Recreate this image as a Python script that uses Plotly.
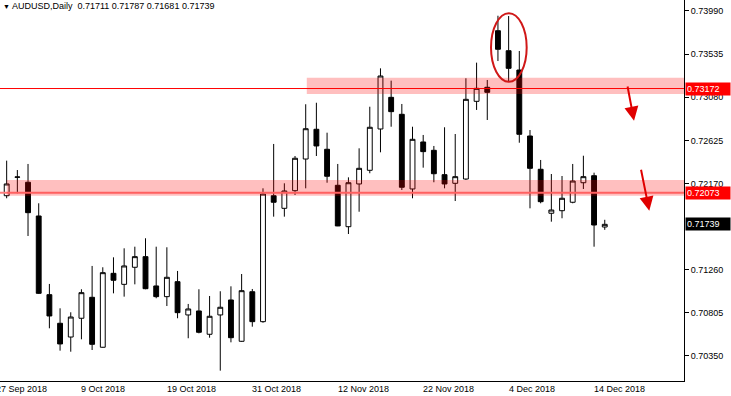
import plotly.graph_objects as go

# ---------------- data ----------------
dates = ["2018-09-27", "2018-09-28",
         "2018-10-01", "2018-10-02", "2018-10-03", "2018-10-04", "2018-10-05",
         "2018-10-08", "2018-10-09", "2018-10-10", "2018-10-11", "2018-10-12",
         "2018-10-15", "2018-10-16", "2018-10-17", "2018-10-18", "2018-10-19",
         "2018-10-22", "2018-10-23", "2018-10-24", "2018-10-25", "2018-10-26",
         "2018-10-29", "2018-10-30", "2018-10-31", "2018-11-01", "2018-11-02",
         "2018-11-05", "2018-11-06", "2018-11-07", "2018-11-08", "2018-11-09",
         "2018-11-12", "2018-11-13", "2018-11-14", "2018-11-15", "2018-11-16",
         "2018-11-19", "2018-11-20", "2018-11-21", "2018-11-22", "2018-11-23",
         "2018-11-26", "2018-11-27", "2018-11-28", "2018-11-29", "2018-11-30",
         "2018-12-03", "2018-12-04", "2018-12-05", "2018-12-06", "2018-12-07",
         "2018-12-10", "2018-12-11", "2018-12-12", "2018-12-13", "2018-12-14",
         "2018-12-17"]

opens = [0.72530, 0.72041, 0.72236, 0.72183, 0.71827, 0.70997, 0.70695, 0.70550,
         0.70748, 0.70969, 0.70442, 0.71222, 0.71106, 0.71286, 0.71398, 0.71089,
         0.70976, 0.71134, 0.70783, 0.70825, 0.70579, 0.70783, 0.70941, 0.70505,
         0.71028, 0.70712, 0.72041, 0.71908, 0.72094, 0.72428, 0.72742, 0.72531,
         0.72151, 0.71714, 0.72165, 0.72309, 0.72745, 0.73079, 0.72900, 0.72112,
         0.72608, 0.72520, 0.72263, 0.72172, 0.72217, 0.73037, 0.73185, 0.73782,
         0.73571, 0.73367, 0.72671, 0.72320, 0.71856, 0.71883, 0.71972, 0.72178,
         0.72252, 0.71711]
highs = [0.72560, 0.72411, 0.72312, 0.72376, 0.71961, 0.71110, 0.70853, 0.70811,
         0.71054, 0.71300, 0.71286, 0.71391, 0.71486, 0.71503, 0.71592, 0.71503,
         0.71497, 0.71247, 0.70899, 0.71054, 0.70983, 0.71033, 0.71085, 0.71215,
         0.71057, 0.72119, 0.72587, 0.72172, 0.72460, 0.73006, 0.73022, 0.72706,
         0.72376, 0.72235, 0.72541, 0.72980, 0.73385, 0.73255, 0.73009, 0.72769,
         0.72682, 0.72566, 0.72763, 0.72692, 0.73280, 0.73445, 0.73262, 0.73940,
         0.73937, 0.73568, 0.72734, 0.72418, 0.72270, 0.72249, 0.72376, 0.72463,
         0.72284, 0.71787]
lows = [0.72070, 0.72014, 0.72067, 0.71616, 0.71005, 0.70642, 0.70406, 0.70395,
        0.70526, 0.70413, 0.70438, 0.71011, 0.70976, 0.71106, 0.71054, 0.70959,
        0.70877, 0.70748, 0.70537, 0.70589, 0.70543, 0.70195, 0.70494, 0.70500,
        0.70659, 0.70701, 0.71820, 0.71820, 0.72049, 0.72119, 0.72460, 0.72178,
        0.71720, 0.71637, 0.71872, 0.72278, 0.72499, 0.72769, 0.72101, 0.72014,
        0.72337, 0.72183, 0.72119, 0.71985, 0.72207, 0.72946, 0.72840, 0.73462,
        0.73244, 0.72600, 0.71908, 0.71961, 0.71767, 0.71803, 0.71961, 0.72112,
        0.71503, 0.71681]
closes = [0.72100, 0.72165, 0.72238, 0.71862, 0.71011, 0.70772, 0.70477, 0.70761,
          0.71018, 0.70473, 0.71229, 0.71149, 0.71300, 0.71398, 0.71060, 0.70976,
          0.71180, 0.70807, 0.70846, 0.70600, 0.70769, 0.70864, 0.70543, 0.71039,
          0.70712, 0.72059, 0.71972, 0.72091, 0.72436, 0.72748, 0.72566, 0.72246,
          0.71722, 0.72178, 0.72330, 0.72763, 0.73304, 0.72928, 0.72130, 0.72636,
          0.72506, 0.72273, 0.72165, 0.72242, 0.73058, 0.73174, 0.73132, 0.73586,
          0.73385, 0.72689, 0.72330, 0.71978, 0.71890, 0.72014, 0.72196, 0.72242,
          0.71732, 0.71739]

symbol = "AUDUSD"
timeframe = "Daily"

date_tick_dates = ["2018-09-27", "2018-10-09", "2018-10-19", "2018-10-31",
                   "2018-11-12", "2018-11-22", "2018-12-04", "2018-12-14"]
date_tick_labels = ["27 Sep 2018", "9 Oct 2018", "19 Oct 2018", "31 Oct 2018",
                    "12 Nov 2018", "22 Nov 2018", "4 Dec 2018", "14 Dec 2018"]

price_ticks = [0.70350, 0.70805, 0.71260, 0.72170, 0.72625, 0.73080, 0.73535, 0.73990]

resistance_level = 0.73172
support_level = 0.72073
resistance_zone = [0.73114, 0.73286]
support_zone = [0.72041, 0.72207]

# ---------------- figure ----------------
FONT = "Tahoma, Liberation Sans, Arial, sans-serif"
FS = 9
xs = list(range(len(dates)))

fig = go.Figure()
fig.add_trace(go.Candlestick(
    x=xs, open=opens, high=highs, low=lows, close=closes,
    increasing=dict(line=dict(color="black", width=1), fillcolor="white"),
    decreasing=dict(line=dict(color="black", width=1), fillcolor="black"),
    whiskerwidth=0, hoverinfo="skip",
))

X0, X1 = 0.375, 64.42
Y0, Y1 = 0.70086, 0.74106
PLOT_W = 684
PX_PER_BAR = PLOT_W / (X1 - X0)

# horizontal lines
fig.add_shape(type="line", xref="paper", x0=0, x1=1, yref="y",
              y0=resistance_level, y1=resistance_level,
              line=dict(color="#ff0000", width=1), layer="above")
fig.add_shape(type="line", xref="paper", x0=0, x1=1, yref="y",
              y0=support_level, y1=support_level,
              line=dict(color="#ff8080", width=2), layer="above")
# zones
fig.add_shape(type="rect", xref="x", x0=29.1, x1=X1 + 1, yref="y",
              y0=resistance_zone[0], y1=resistance_zone[1],
              fillcolor="rgba(255,0,0,0.25)", line=dict(width=0), layer="above")
fig.add_shape(type="rect", xref="x", x0=1.0, x1=X1 + 1, yref="y",
              y0=support_zone[0], y1=support_zone[1],
              fillcolor="rgba(255,0,0,0.25)", line=dict(width=0), layer="above")
# ellipse around the top
fig.add_shape(type="circle", xref="x", yref="y", x0=46.35, x1=49.69,
              y0=0.73244, y1=0.73966, line=dict(color="#d01818", width=2),
              layer="above")

# arrows
for (tx, ty, hx, hy) in [(59.11, 0.73209, 59.74, 0.72833),
                         (60.37, 0.72330, 61.17, 0.71883)]:
    fig.add_annotation(x=hx, y=hy, ax=tx, ay=ty, xref="x", yref="y",
                       axref="x", ayref="y", text="", showarrow=True,
                       arrowhead=2, arrowsize=1.4, arrowwidth=2,
                       arrowcolor="#e00000", standoff=0)

# date labels (left-aligned at the bar, MT4 style)
for d, lab in zip(date_tick_dates, date_tick_labels):
    idx = dates.index(d)
    pos = max(idx, X0)
    shift = (idx - pos) * PX_PER_BAR - 2
    fig.add_annotation(x=pos, y=0, xref="x", yref="paper",
                       text=lab, showarrow=False, xanchor="left", yanchor="top",
                       xshift=shift, yshift=-1,
                       font=dict(family=FONT, size=FS, color="black"))

# price tags on the axis
for val, bg in [(resistance_level, "#ff0000"), (support_level, "#ff0000"),
                (closes[-1], "black")]:
    fig.add_annotation(x=1, y=val, xref="paper", yref="y", text=f"{val:.5f}",
                       showarrow=False, xanchor="left", yanchor="middle",
                       xshift=1, bgcolor=bg, borderpad=1, width=42, align="left",
                       font=dict(family=FONT, size=FS, color="white"))

# title
fig.add_annotation(x=0, y=1, xref="paper", yref="paper", xanchor="left",
                   yanchor="top", xshift=1, yshift=1, showarrow=False,
                   text=f"<span style='font-size:7px'>▼</span> {symbol},{timeframe}  "
                        f"{opens[-1]:.5f} {highs[-1]:.5f} "
                        f"{lows[-1]:.5f} {closes[-1]:.5f}",
                   font=dict(family=FONT, size=FS, color="black"))

fig.update_layout(
    width=731, height=396,
    margin=dict(l=0, r=47, t=0, b=15),
    paper_bgcolor="white", plot_bgcolor="white",
    showlegend=False, boxgap=0.35,
    xaxis=dict(range=[X0, X1], rangeslider=dict(visible=False),
               showgrid=False, zeroline=False, showticklabels=False,
               showline=True, linecolor="black", linewidth=1, ticks=""),
    yaxis=dict(range=[Y0, Y1], side="right", showgrid=False, zeroline=False,
               tickvals=price_ticks, tickformat=".5f", ticks="outside",
               ticklen=4, tickcolor="black", showline=True, linecolor="black",
               linewidth=1, tickfont=dict(family=FONT, size=FS, color="black")),
    hovermode=False,
)

fig.write_html("out.html", config={"displayModeBar": False, "staticPlot": True},
               post_script="document.body.style.margin='0';document.body.style.padding='0';")
